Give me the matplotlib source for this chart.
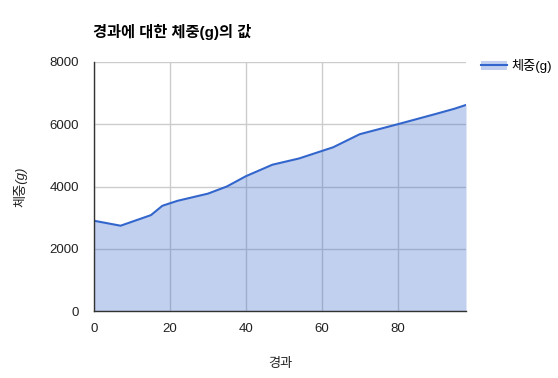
import matplotlib
matplotlib.use("Agg")
import matplotlib.pyplot as plt
from matplotlib.lines import Line2D
from matplotlib.patches import Patch

plt.rcParams["font.family"] = ["Liberation Sans", "Noto Sans CJK KR"]

# elapsed time vs weight (g)
elapsed = [0, 7, 15, 17, 18, 22, 30, 35, 40, 47, 54, 63, 70, 80, 90, 95, 98]
weight = [2900, 2740, 3080, 3280, 3380, 3540, 3770, 4000, 4330, 4700, 4900,
          5260, 5680, 6000, 6330, 6500, 6620]

x_ticks = [0, 20, 40, 60, 80]
y_ticks = [0, 2000, 4000, 6000, 8000]

line_color = "#3366cc"

fig = plt.figure(figsize=(5.58, 3.78), dpi=100)
ax = fig.add_axes([94 / 558, 67 / 378, 372 / 558, 249 / 378])

ax.fill_between(elapsed, weight, 0, color=line_color, alpha=0.3, linewidth=0, zorder=2)
ax.plot(elapsed, weight, color=line_color, linewidth=1.5, zorder=3)

ax.set_xlim(0, 98)
ax.set_ylim(0, 8000)
ax.set_xticks(x_ticks)
ax.set_yticks(y_ticks)
ax.grid(True, color="#cccccc", linewidth=1, zorder=1)
ax.set_axisbelow(True)
ax.tick_params(length=0, labelsize=9.5, colors="#222222")
ax.tick_params(axis="y", pad=11)
ax.tick_params(axis="x", pad=9)

for side in ["top", "right"]:
    ax.spines[side].set_visible(False)
for side in ["left", "bottom"]:
    ax.spines[side].set_color("#333333")
    ax.spines[side].set_linewidth(1)
    ax.spines[side].set_zorder(4)

ax.set_xlabel("경과", fontsize=9.5, style="italic", color="#222222", labelpad=16)
ax.set_ylabel("체중(g)", fontsize=9.5, style="italic", color="#222222", labelpad=16)

fig.text(93 / 558, 1 - 32 / 378, "경과에 대한 체중(g)의 값", fontsize=11,
         fontweight="bold", va="center", ha="left", color="#000000")

handle = (Patch(facecolor=line_color, alpha=0.3, linewidth=0),
          Line2D([], [], color=line_color, linewidth=1.5))
fig.legend([handle], ["체중(g)"], loc="upper left",
           bbox_to_anchor=(481 / 558, 1 - 59 / 378), frameon=False,
           borderpad=0, borderaxespad=0,
           fontsize=9.5, handlelength=2.0, handletextpad=0.3)

fig.savefig("out.png", dpi=100)
plt.close(fig)
